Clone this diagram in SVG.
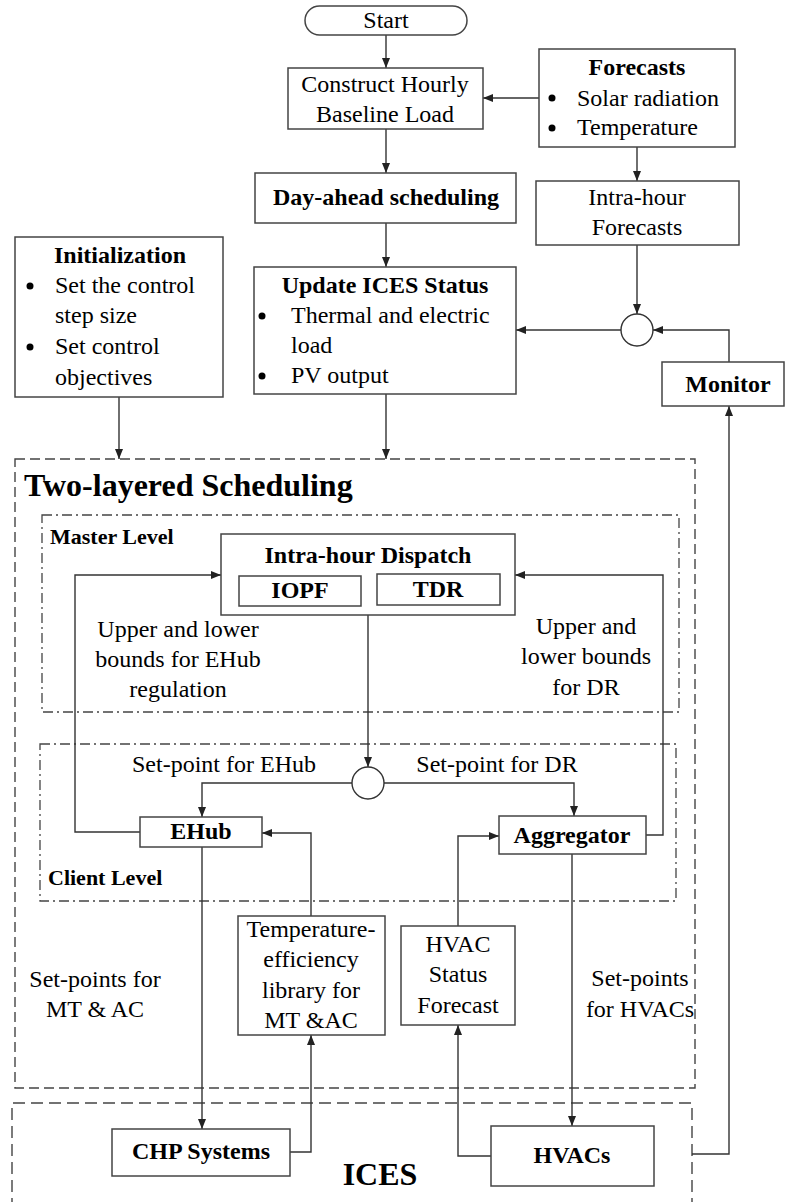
<svg xmlns="http://www.w3.org/2000/svg" width="786" height="1202" viewBox="0 0 786 1202">
<style>
text{font-family:"Liberation Serif","Times New Roman",serif;font-size:24px;fill:#000}
.b{font-weight:bold}
.c{text-anchor:middle}
.box{fill:#fff;stroke:#444;stroke-width:1.5}
.cn{fill:none;stroke:#333;stroke-width:1.4}
.dash{fill:none;stroke:#444;stroke-width:1.4;stroke-dasharray:10 5}
.dd{fill:none;stroke:#444;stroke-width:1.3;stroke-dasharray:10 4 2 4}
.dot{fill:#000}
</style>
<defs>
<marker id="ah" viewBox="0 0 10 8" refX="10" refY="4" markerWidth="10" markerHeight="8" markerUnits="userSpaceOnUse" orient="auto">
<path d="M0,0 L10,4 L0,8 z" fill="#222"/>
</marker>
</defs>

<g id="containers">
<rect class="dash" x="15" y="459" width="680" height="629"/>
<text class="b" x="24" y="496" style="font-size:32px">Two-layered Scheduling</text>
<rect class="dd" x="42" y="515" width="637" height="197"/>
<text class="b" x="50" y="544" style="font-size:22px">Master Level</text>
<rect class="dd" x="40" y="744" width="636" height="157"/>
<text class="b" x="48" y="885" style="font-size:22px">Client Level</text>
<path class="dash" d="M12,1210 V1103 H692 V1210" style="stroke-dasharray:12 6"/>
<text class="b c" x="380" y="1185" style="font-size:32px">ICES</text>
</g>

<g id="connectors">
<path class="cn" d="M386,35 V68" marker-end="url(#ah)"/>
<path class="cn" d="M539,98 H483" marker-end="url(#ah)"/>
<path class="cn" d="M386,129 V173" marker-end="url(#ah)"/>
<path class="cn" d="M637,147 V181" marker-end="url(#ah)"/>
<path class="cn" d="M386,223 V267" marker-end="url(#ah)"/>
<path class="cn" d="M637,245 V314" marker-end="url(#ah)"/>
<path class="cn" d="M621,330 H516" marker-end="url(#ah)"/>
<path class="cn" d="M729,362 V330 H653" marker-end="url(#ah)"/>
<path class="cn" d="M692,1154 H729 V406" marker-end="url(#ah)"/>
<path class="cn" d="M119,397 V459" marker-end="url(#ah)"/>
<path class="cn" d="M386,394 V459" marker-end="url(#ah)"/>
<path class="cn" d="M368,615 V767" marker-end="url(#ah)"/>
<path class="cn" d="M352,783 H202 V817" marker-end="url(#ah)"/>
<path class="cn" d="M384,783 H574 V816" marker-end="url(#ah)"/>
<path class="cn" d="M140,832 H75 V575 H221" marker-end="url(#ah)"/>
<path class="cn" d="M646,835 H663 V575 H515" marker-end="url(#ah)"/>
<path class="cn" d="M311,916 V833 H262" marker-end="url(#ah)"/>
<path class="cn" d="M458,926 V836 H499" marker-end="url(#ah)"/>
<path class="cn" d="M202,847 V1129" marker-end="url(#ah)"/>
<path class="cn" d="M572,854 V1126" marker-end="url(#ah)"/>
<path class="cn" d="M290,1152 H311 V1035" marker-end="url(#ah)"/>
<path class="cn" d="M491,1156 H458 V1025" marker-end="url(#ah)"/>
<text class="c" x="178" y="637">Upper and lower</text>
<text class="c" x="178" y="667">bounds for EHub</text>
<text class="c" x="178" y="697">regulation</text>
<text class="c" x="586" y="634">Upper and</text>
<text class="c" x="586" y="664">lower bounds</text>
<text class="c" x="586" y="695">for DR</text>
<text class="c" x="224" y="772">Set-point for EHub</text>
<text class="c" x="497" y="772">Set-point for DR</text>
<text class="c" x="95" y="987">Set-points for</text>
<text class="c" x="95" y="1017">MT &amp; AC</text>
<text class="c" x="640" y="986">Set-points</text>
<text class="c" x="640" y="1017">for HVACs</text>
</g>

<g id="start">
<rect class="box" x="305" y="6" width="162" height="29" rx="14.5"/>
<text class="c" x="386" y="28">Start</text>
</g>
<g id="construct">
<rect class="box" x="288" y="68" width="195" height="61"/>
<text class="c" x="385" y="92">Construct Hourly</text>
<text class="c" x="385" y="122">Baseline Load</text>
</g>
<g id="forecasts">
<rect class="box" x="539" y="49" width="196" height="98"/>
<text class="b c" x="637" y="75">Forecasts</text>
<circle class="dot" cx="552" cy="98" r="3.5"/>
<text x="577" y="106">Solar radiation</text>
<circle class="dot" cx="552" cy="128" r="3.5"/>
<text x="577" y="135">Temperature</text>
</g>
<g id="dayahead">
<rect class="box" x="255" y="173" width="261" height="50"/>
<text class="b c" x="386" y="205">Day-ahead scheduling</text>
</g>
<g id="intrahour-forecasts">
<rect class="box" x="536" y="181" width="203" height="64"/>
<text class="c" x="637" y="205">Intra-hour</text>
<text class="c" x="637" y="235">Forecasts</text>
</g>
<g id="initialization">
<rect class="box" x="15" y="237" width="208" height="160"/>
<text class="b c" x="120" y="263">Initialization</text>
<circle class="dot" cx="30" cy="286" r="3.5"/>
<text x="55" y="293">Set the control</text>
<text x="55" y="323">step size</text>
<circle class="dot" cx="30" cy="347" r="3.5"/>
<text x="55" y="354">Set control</text>
<text x="55" y="385">objectives</text>
</g>
<g id="update">
<rect class="box" x="254" y="267" width="262" height="127"/>
<text class="b c" x="385" y="293">Update ICES Status</text>
<circle class="dot" cx="262" cy="316" r="3.5"/>
<text x="291" y="323">Thermal and electric</text>
<text x="291" y="353">load</text>
<circle class="dot" cx="262" cy="376" r="3.5"/>
<text x="291" y="383">PV output</text>
</g>
<g id="junction1">
<circle cx="637" cy="330" r="16" fill="#fff" stroke="#333" stroke-width="1.4"/>
</g>
<g id="monitor">
<rect class="box" x="662" y="362" width="122" height="44"/>
<text class="b c" x="728" y="392">Monitor</text>
</g>
<g id="dispatch">
<rect class="box" x="221" y="534" width="294" height="81"/>
<text class="b c" x="368" y="563">Intra-hour Dispatch</text>
</g>
<g id="iopf">
<rect class="box" x="239" y="576" width="122" height="30"/>
<text class="b c" x="300" y="598">IOPF</text>
</g>
<g id="tdr">
<rect class="box" x="377" y="574" width="123" height="31"/>
<text class="b c" x="438" y="597">TDR</text>
</g>
<g id="junction2">
<circle cx="368" cy="783" r="16" fill="#fff" stroke="#333" stroke-width="1.4"/>
</g>
<g id="ehub">
<rect class="box" x="140" y="817" width="122" height="30"/>
<text class="b c" x="201" y="839">EHub</text>
</g>
<g id="aggregator">
<rect class="box" x="499" y="816" width="147" height="38"/>
<text class="b c" x="572" y="843">Aggregator</text>
</g>
<g id="templib">
<rect class="box" x="238" y="916" width="147" height="119"/>
<text class="c" x="311" y="937">Temperature-</text>
<text class="c" x="311" y="967">efficiency</text>
<text class="c" x="311" y="998">library for</text>
<text class="c" x="311" y="1028">MT &amp;AC</text>
</g>
<g id="hvac-forecast">
<rect class="box" x="401" y="926" width="114" height="99"/>
<text class="c" x="458" y="952">HVAC</text>
<text class="c" x="458" y="982">Status</text>
<text class="c" x="458" y="1013">Forecast</text>
</g>
<g id="chp">
<rect class="box" x="112" y="1129" width="178" height="47"/>
<text class="b c" x="201" y="1159">CHP Systems</text>
</g>
<g id="hvacs">
<rect class="box" x="491" y="1126" width="163" height="60"/>
<text class="b c" x="572" y="1163">HVACs</text>
</g>
</svg>
